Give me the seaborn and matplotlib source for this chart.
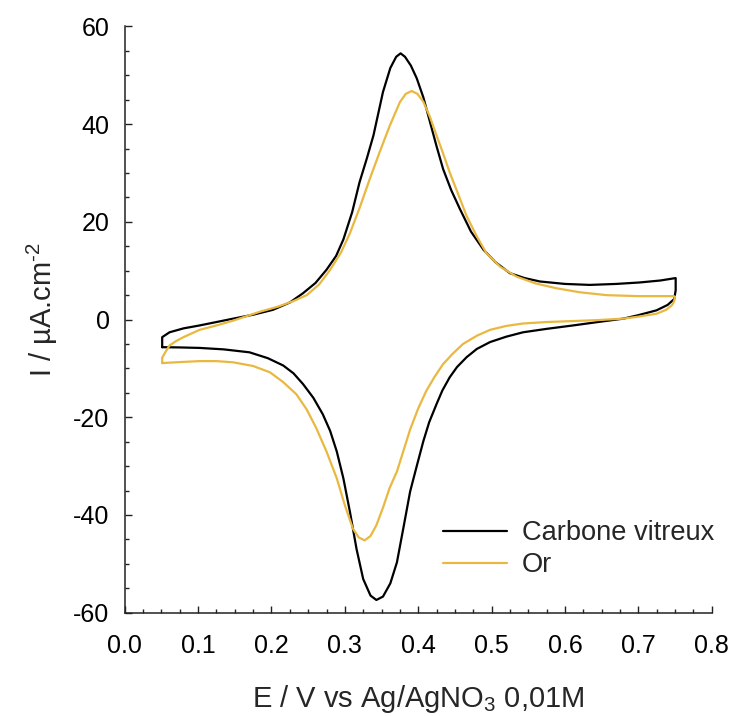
import matplotlib
matplotlib.use("Agg")
import matplotlib.pyplot as plt
import seaborn as sns
import pandas as pd
from matplotlib.ticker import MultipleLocator

# ---- data ----
E_carbone = [0.051, 0.051, 0.061, 0.080, 0.102, 0.125, 0.148, 0.175, 0.202, 0.225, 0.243, 0.260, 0.275, 0.288,
             0.298, 0.310, 0.320, 0.330, 0.339, 0.352, 0.362, 0.370, 0.376, 0.382, 0.390, 0.398, 0.407, 0.416,
             0.425, 0.434, 0.445, 0.457, 0.472, 0.489, 0.505, 0.525, 0.545, 0.566, 0.600, 0.634, 0.670, 0.702,
             0.730, 0.751,
             0.751, 0.749, 0.740, 0.725, 0.700, 0.680, 0.645, 0.611, 0.575, 0.543, 0.520, 0.498, 0.480, 0.466,
             0.453, 0.443, 0.433, 0.425, 0.415, 0.407, 0.398, 0.389, 0.380, 0.371, 0.362, 0.352, 0.343, 0.335,
             0.325, 0.316, 0.307, 0.298, 0.289, 0.280, 0.270, 0.257, 0.243, 0.230, 0.216, 0.195, 0.170, 0.135,
             0.102, 0.075, 0.051]
I_carbone = [-5.65, -3.6, -2.6, -1.8, -1.2, -0.5, 0.2, 1.0, 2.0, 3.5, 5.4, 7.5, 10.2, 13.0,
             16.4, 22.0, 28.1, 33.0, 37.7, 46.6, 51.5, 53.8, 54.5, 53.8, 52.0, 49.4, 45.5, 40.5,
             35.5, 30.8, 26.5, 22.6, 18.0, 14.3, 11.8, 9.5, 8.5, 7.8, 7.3, 7.1, 7.3, 7.6,
             8.0, 8.5,
             6.0, 4.2, 3.0, 1.9, 0.9, 0.2, -0.5, -1.2, -1.9, -2.6, -3.5, -4.6, -6.0, -7.7,
             -9.7, -11.8, -14.5, -17.3, -21.0, -24.9, -30.0, -35.2, -42.5, -49.7, -54.0, -56.7, -57.4, -56.5,
             -53.1, -47.0, -39.4, -32.5, -27.0, -22.8, -19.4, -16.0, -13.2, -11.0, -9.4, -7.9, -6.7, -6.1,
             -5.8, -5.7, -5.65]

E_or = [0.051, 0.051, 0.056, 0.061, 0.070, 0.080, 0.102, 0.125, 0.148, 0.170, 0.184, 0.210, 0.230, 0.248,
        0.265, 0.280, 0.295, 0.307, 0.320, 0.334, 0.348, 0.361, 0.375, 0.383, 0.391, 0.399, 0.407, 0.416,
        0.425, 0.434, 0.443, 0.455, 0.466, 0.480, 0.493, 0.512, 0.534, 0.560, 0.589, 0.620, 0.657, 0.700,
        0.748,
        0.750, 0.749, 0.746, 0.738, 0.725, 0.700, 0.680, 0.645, 0.611, 0.575, 0.543, 0.520, 0.498, 0.480,
        0.461, 0.447, 0.434, 0.422, 0.411, 0.400, 0.389, 0.380, 0.371, 0.361, 0.352, 0.343, 0.335, 0.327,
        0.319, 0.311, 0.300, 0.289, 0.275, 0.261, 0.248, 0.234, 0.216, 0.198, 0.175, 0.148, 0.125, 0.102,
        0.075, 0.051]
I_or = [-8.9, -7.8, -6.5, -5.3, -4.4, -3.6, -2.1, -1.2, -0.2, 0.9, 1.6, 2.7, 3.8, 5.0,
        7.2, 10.2, 13.8, 17.7, 22.8, 28.8, 34.5, 39.6, 44.5, 46.2, 46.8, 46.2, 44.6, 41.5,
        37.7, 34.0, 30.1, 25.5, 21.2, 17.0, 13.6, 10.8, 8.8, 7.4, 6.4, 5.6, 5.0, 4.8,
        4.8,
        4.7, 3.8, 2.95, 2.0, 1.2, 0.6, 0.2, -0.1, -0.3, -0.5, -0.8, -1.3, -2.1, -3.3,
        -5.0, -7.0, -9.1, -11.8, -14.6, -18.2, -22.5, -26.8, -31.1, -34.5, -38.5, -42.1, -44.3, -45.2,
        -44.6, -42.8, -38.0, -32.5, -27.0, -22.2, -18.4, -15.3, -12.8, -10.8, -9.5, -8.75, -8.5, -8.5,
        -8.7, -8.9]

series_names = ["Carbone vitreux", "Or"]
colors = ["#000000", "#E9B840"]
x_ticks = [0.0, 0.1, 0.2, 0.3, 0.4, 0.5, 0.6, 0.7, 0.8]
y_ticks = [-60, -40, -20, 0, 20, 40, 60]

df = pd.concat([
    pd.DataFrame({"E": E_carbone, "I": I_carbone, "serie": series_names[0]}),
    pd.DataFrame({"E": E_or, "I": I_or, "serie": series_names[1]}),
])

sns.set_theme(style="ticks")
plt.rcParams["font.family"] = ["Liberation Sans", "DejaVu Sans"]
plt.rcParams["mathtext.fontset"] = "custom"
plt.rcParams["mathtext.rm"] = "Liberation Sans"
plt.rcParams["mathtext.it"] = "Liberation Sans:italic"
plt.rcParams["mathtext.default"] = "regular"

fig = plt.figure(figsize=(7.34, 7.16), dpi=100)
ax = fig.add_axes([0.170, 0.1443, 0.7995, 0.8187])

sns.lineplot(data=df, x="E", y="I", hue="serie", hue_order=series_names,
             palette=colors, sort=False, estimator=None, units="serie",
             linewidth=1.6, ax=ax)

ax.set_xlim(0.0, 0.8)
ax.set_ylim(-60, 60)
ax.set_xticks(x_ticks)
ax.set_xticklabels([f"{v:.1f}" for v in x_ticks])
ax.set_yticks(y_ticks)
ax.set_yticklabels([str(v) for v in y_ticks])
ax.xaxis.set_minor_locator(MultipleLocator(0.025))
ax.yaxis.set_minor_locator(MultipleLocator(5))

sns.despine(ax=ax)
for s in ["left", "bottom"]:
    ax.spines[s].set_linewidth(1.1)
    ax.spines[s].set_color("#222222")

ax.tick_params(which="major", direction="in", length=5, width=1.0, color="#222222",
               labelsize=18, labelcolor="black")
ax.tick_params(which="minor", direction="in", length=3, width=1.0, color="#222222")
ax.tick_params(axis="x", which="major", pad=15)
ax.tick_params(axis="y", which="major", pad=11)

ax.set_xlabel("E / V vs Ag/AgNO$_3$ 0,01M", fontsize=21, labelpad=18)
ax.set_ylabel("I / µA.cm$^{\\text{-}2}$", fontsize=21, labelpad=9.5, y=0.517)

leg = ax.legend(loc="upper left", bbox_to_anchor=(0.524, 0.176), frameon=False,
                fontsize=19.6, handlelength=2.35, handletextpad=0.55, labelspacing=0.21,
                borderaxespad=0)

fig.savefig("out.png", dpi=100)
